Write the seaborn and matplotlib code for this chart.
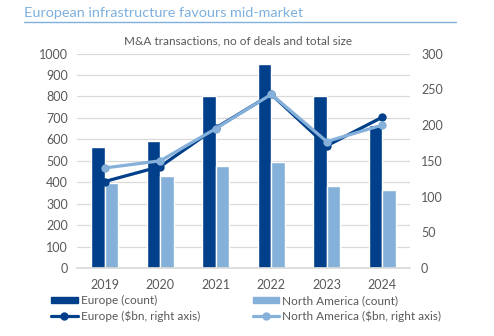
import matplotlib
matplotlib.use("Agg")
import matplotlib.pyplot as plt
import seaborn as sns
import pandas as pd
from matplotlib.patches import Patch
from matplotlib.lines import Line2D

years = ["2019", "2020", "2021", "2022", "2023", "2024"]
europe_count = [565, 593, 800, 950, 800, 668]
na_count = [398, 430, 477, 495, 383, 365]
europe_bn = [121, 142, 196, 243, 171, 211]
na_bn = [140, 150, 195, 243, 177, 200]

title = "European infrastructure favours mid-market"
subtitle = "M&A transactions, no of deals and total size"
labels = ["Europe (count)", "North America (count)",
          "Europe ($bn, right axis)", "North America ($bn, right axis)"]

c_eu = "#003f8a"
c_na = "#85b0d9"
grey = "#595959"

sns.set_theme(style="white")
plt.rcParams["font.family"] = ["Lato", "DejaVu Sans"]

bars = pd.DataFrame({
    "year": years * 2,
    "value": europe_count + na_count,
    "series": [labels[0]] * len(years) + [labels[1]] * len(years),
})
lines = pd.DataFrame({
    "year": years * 2,
    "value": europe_bn + na_bn,
    "series": [labels[2]] * len(years) + [labels[3]] * len(years),
})

fig = plt.figure(figsize=(4.94, 3.36), dpi=100)
ax = fig.add_axes([77 / 494, 1 - 268 / 336, 333 / 494, (268 - 53.6) / 336])

sns.barplot(data=bars, x="year", y="value", hue="series",
            palette=[c_eu, c_na], width=0.48, gap=0, saturation=1,
            ax=ax, legend=False, zorder=2)
ax.set_ylim(0, 1000)
ax.set_xlim(-0.5, 5.5)
ax.set_yticks(range(0, 1001, 100))
ax.yaxis.grid(True, color="#d9d9d9", linewidth=0.9, zorder=0)
ax.set_axisbelow(True)
for s in ["top", "right", "left"]:
    ax.spines[s].set_visible(False)
ax.spines["bottom"].set_color("#d9d9d9")
ax.set_xlabel("")
ax.set_ylabel("")
ax.tick_params(axis="both", colors=grey, labelsize=9, length=0, pad=8)
ax.tick_params(axis="y", pad=6.5)

ax2 = ax.twinx()
sns.lineplot(data=lines, x="year", y="value", hue="series",
             palette=[c_eu, c_na], marker="o", markersize=6,
             markeredgewidth=0, linewidth=2.3, ax=ax2, legend=False,
             sort=False)
ax2.set_ylim(0, 300)
ax2.set_xlim(-0.5, 5.5)
ax2.set_yticks(range(0, 301, 50))
for s in ["top", "right", "left", "bottom"]:
    ax2.spines[s].set_visible(False)
ax2.set_ylabel("")
ax2.tick_params(axis="y", colors=grey, labelsize=9, length=0, pad=8)
ax2.grid(False)

fig.text(24 / 494, 1 - 13 / 336, title, color="#7fb0dc", fontsize=10.4,
         va="center", ha="left")
fig.add_artist(Line2D([24 / 494, 456 / 494], [1 - 21.5 / 336, 1 - 21.5 / 336],
                      color="#7fb0dc", linewidth=1.0))
fig.text(238 / 494, 1 - 41 / 336, subtitle, color=grey, fontsize=8.5,
         va="center", ha="center")

handles = [
    Patch(color=c_eu, label=labels[0]),
    Line2D([], [], color=c_eu, marker="o", markersize=5, linewidth=2.3, label=labels[2]),
    Patch(color=c_na, label=labels[1]),
    Line2D([], [], color=c_na, marker="o", markersize=5, linewidth=2.3, label=labels[3]),
]
leg = fig.legend(handles=handles, ncol=2, loc="upper left",
                 bbox_to_anchor=(51 / 494, 1 - 295 / 336), frameon=False,
                 fontsize=8.5, handlelength=2.25, handleheight=0.45,
                 handletextpad=0.25, columnspacing=4.5, labelspacing=0.35,
                 labelcolor=grey, borderpad=0, borderaxespad=0)

fig.savefig("out.png", dpi=100)
